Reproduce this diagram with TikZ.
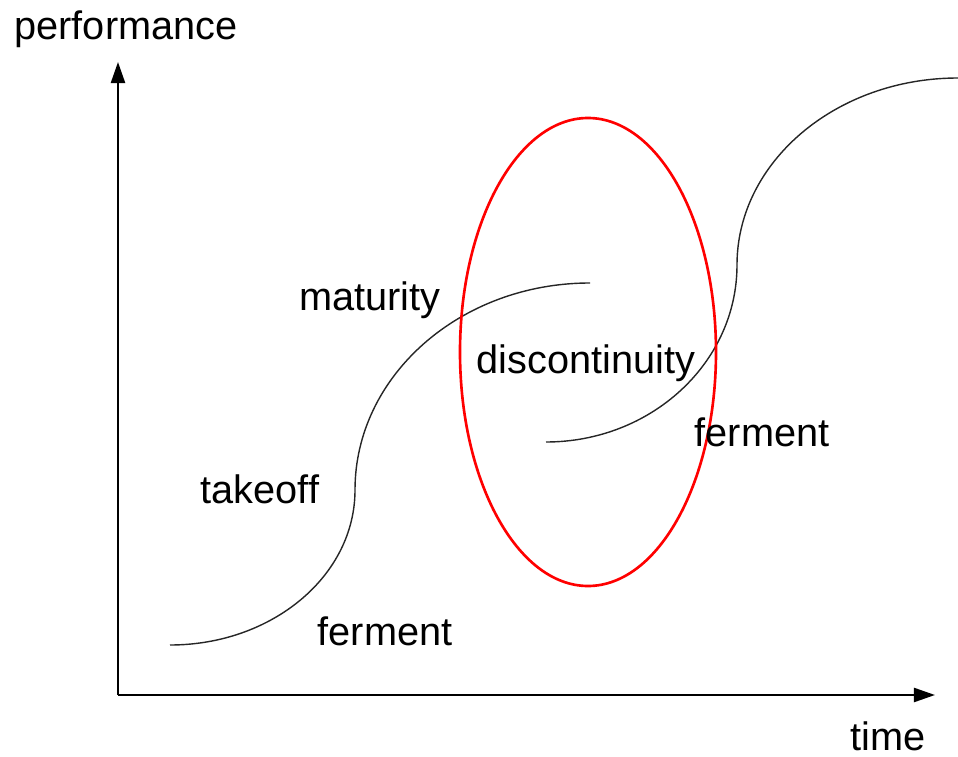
\documentclass[tikz,border=0pt]{standalone}
\usepackage{fontspec}
\setmainfont{Liberation Sans}
\usetikzlibrary{arrows.meta}

\tikzset{
	akse/.style={line width=1.3pt, -{Triangle[length=12pt,width=8pt]}},
	kurve/.style={line width=0.8pt, black!85},
	ord/.style={font=\fontsize{22.6}{27}\selectfont, inner sep=0pt, anchor=base}
}

\begin{document}
\begin{tikzpicture}[x=0.02cm, y=-0.02cm]
		\useasboundingbox (0,0) rectangle (958,757);
		\coordinate (o) at (118,695);
		\coordinate (yt) at (118,62);
		\coordinate (xt) at (935,695);
		\draw [akse] (o) -- (yt);
		\draw [akse] (o) -- (xt);
		\node [ord] (p) at (126,40) {performance};
		\node [ord] (t) at (888,750) {time};
		%Første kurve
		\draw [kurve] (170,645) .. controls (272,645) and (355,576) .. (355,490)
			.. controls (355,376) and (460,283) .. (590,283);
		%Andre kurve
		\draw [kurve] (546,442) .. controls (651,442) and (737,363) .. (737,265)
			.. controls (737,162) and (836,78) .. (958,78);
		\draw [red, line width=1.5pt] (588,352) ellipse [x radius=128, y radius=234];
		\node [ord] (m) at (370,311) {maturity};
		\node [ord] (d) at (586,374) {discontinuity};
		\node [ord] (f2) at (762,446) {ferment};
		\node [ord] (to) at (260,503) {takeoff};
		\node [ord] (f1) at (385,645) {ferment};
	\end{tikzpicture}
\end{document}
